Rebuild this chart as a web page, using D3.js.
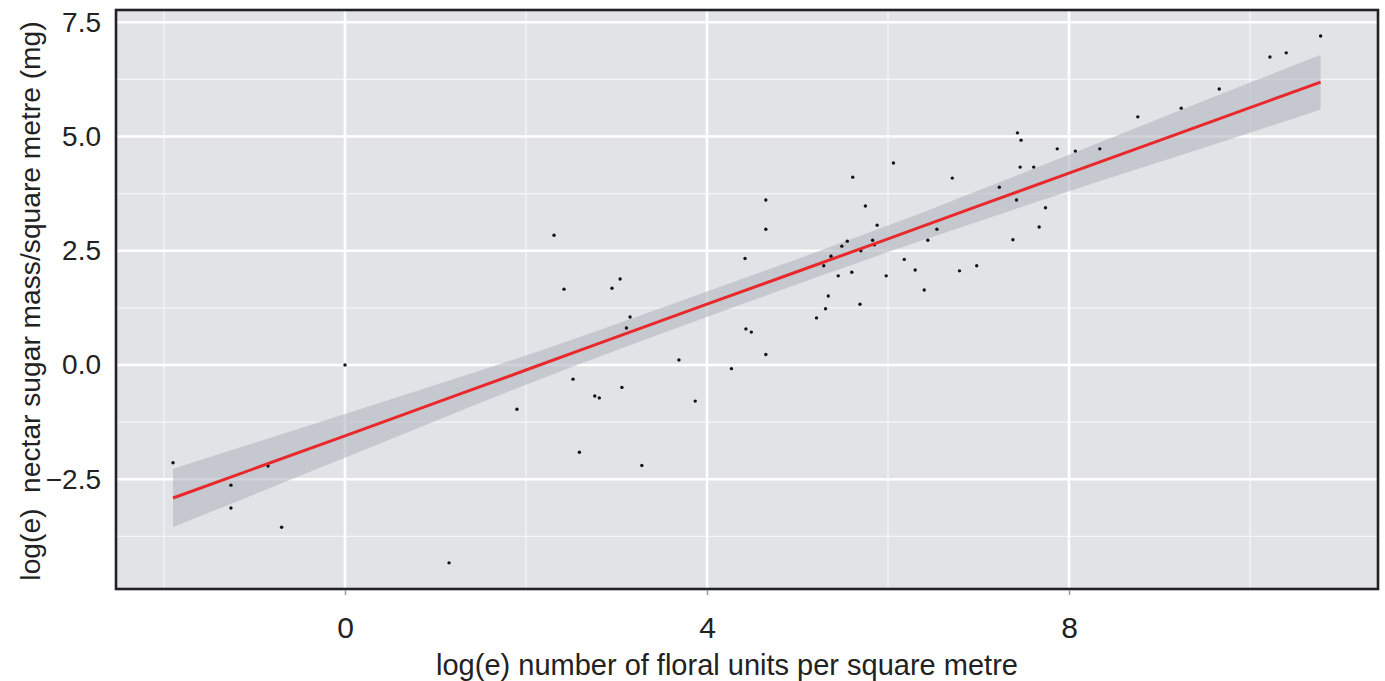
<!DOCTYPE html>
<html>
<head>
<meta charset="utf-8">
<script src="https://cdn.jsdelivr.net/npm/d3@7"></script>
<style>
  html, body { margin: 0; padding: 0; background: #ffffff; }
  svg { display: block; }
  text { font-family: "Liberation Sans", Arial, Helvetica, sans-serif; fill: #222; }
</style>
</head>
<body>
<svg id="chart" width="1385" height="681"></svg>
<script>
// ---- data ----
const floralUnits = [-1.90, -1.26, -1.26, -0.85, -0.70, 0.00, 1.15, 1.90, 2.31, 2.42,
  2.52, 2.59, 2.76, 2.81, 2.95, 3.04, 3.06, 3.11, 3.15, 3.28,
  3.69, 3.87, 4.27, 4.42, 4.43, 4.49, 4.65, 4.65, 4.65, 5.21,
  5.29, 5.31, 5.34, 5.37, 5.45, 5.49, 5.55, 5.60, 5.61, 5.69,
  5.70, 5.75, 5.83, 5.85, 5.88, 5.98, 6.06, 6.18, 6.30, 6.40,
  6.44, 6.54, 6.71, 6.79, 6.98, 7.23, 7.38, 7.42, 7.43, 7.46,
  7.47, 7.61, 7.67, 7.74, 7.87, 8.07, 8.34, 8.76, 9.24, 9.66,
  10.22, 10.40, 10.78];
const nectarSugar = [-2.14, -2.63, -3.13, -2.21, -3.55, 0.00, -4.33, -0.97, 2.84, 1.66,
  -0.31, -1.91, -0.68, -0.72, 1.68, 1.88, -0.49, 0.81, 1.05, -2.20,
  0.11, -0.79, -0.08, 2.33, 0.79, 0.72, 0.23, 2.97, 3.61, 1.03,
  2.17, 1.23, 1.51, 2.38, 1.95, 2.60, 2.71, 2.03, 4.11, 1.33,
  2.50, 3.48, 2.73, 2.63, 3.06, 1.95, 4.42, 2.31, 2.08, 1.64,
  2.73, 2.97, 4.09, 2.06, 2.17, 3.89, 2.74, 3.61, 5.08, 4.33,
  4.92, 4.33, 3.02, 3.44, 4.73, 4.68, 4.73, 5.43, 5.62, 6.04,
  6.74, 6.83, 7.20];

// fitted regression line and its confidence band, read at these x positions
const fitX     = [-1.90, 0.00, 2.00, 4.00, 6.00, 8.00, 10.00, 10.78];
const fitY     = [-2.91, -1.55, -0.11, 1.33, 2.76, 4.20, 5.63, 6.19];
const fitLower = [-3.55, -2.03, -0.43, 1.05, 2.47, 3.80, 5.08, 5.59];
const fitUpper = [-2.27, -1.07, 0.21, 1.61, 3.05, 4.60, 6.18, 6.79];

const xMajorTicks = [0, 4, 8];
const xMinorTicks = [-2, 2, 6, 10];
const yMajorTicks = [-2.5, 0.0, 2.5, 5.0, 7.5];
const yMinorTicks = [-3.75, -1.25, 1.25, 3.75, 6.25];
const xTitle = "log(e) number of floral units per square metre";
const yTitle = "log(e)  nectar sugar mass/square metre (mg)";

// ---- layout ----
const svg = d3.select("#chart");
const panel = { left: 116, right: 1378, top: 10, bottom: 589 };

const x = d3.scaleLinear().domain([-2.530, 11.414]).range([panel.left, panel.right]);
const y = d3.scaleLinear().domain([-4.902, 7.768]).range([panel.bottom, panel.top]);

const g = svg.append("g");

// panel background
g.append("rect")
  .attr("x", panel.left).attr("y", panel.top)
  .attr("width", panel.right - panel.left).attr("height", panel.bottom - panel.top)
  .attr("fill", "#e2e3e7");

// minor grid
g.selectAll(".xminor").data(xMinorTicks).enter().append("line")
  .attr("x1", d => x(d)).attr("x2", d => x(d))
  .attr("y1", panel.top).attr("y2", panel.bottom)
  .attr("stroke", "#f4f5f7").attr("stroke-width", 1.3);
g.selectAll(".yminor").data(yMinorTicks).enter().append("line")
  .attr("y1", d => y(d)).attr("y2", d => y(d))
  .attr("x1", panel.left).attr("x2", panel.right)
  .attr("stroke", "#f4f5f7").attr("stroke-width", 1.3);
// major grid
g.selectAll(".xmajor").data(xMajorTicks).enter().append("line")
  .attr("x1", d => x(d)).attr("x2", d => x(d))
  .attr("y1", panel.top).attr("y2", panel.bottom)
  .attr("stroke", "#ffffff").attr("stroke-width", 2.6);
g.selectAll(".ymajor").data(yMajorTicks).enter().append("line")
  .attr("y1", d => y(d)).attr("y2", d => y(d))
  .attr("x1", panel.left).attr("x2", panel.right)
  .attr("stroke", "#ffffff").attr("stroke-width", 2.6);

// confidence band
const bandData = fitX.map((d, i) => ({ x: d, lo: fitLower[i], hi: fitUpper[i], f: fitY[i] }));
g.append("path")
  .datum(bandData)
  .attr("d", d3.area().x(d => x(d.x)).y0(d => y(d.lo)).y1(d => y(d.hi)).curve(d3.curveMonotoneX))
  .attr("fill", "#b4b8c2").attr("fill-opacity", 0.62);

// points
const pts = floralUnits.map((d, i) => ({ x: d, y: nectarSugar[i] }));
g.selectAll(".pt").data(pts).enter().append("circle")
  .attr("cx", d => x(d.x)).attr("cy", d => y(d.y))
  .attr("r", 1.7).attr("fill", "#111");

// fit line
g.append("path")
  .datum(bandData)
  .attr("d", d3.line().x(d => x(d.x)).y(d => y(d.f)).curve(d3.curveMonotoneX))
  .attr("fill", "none").attr("stroke", "#e8282a").attr("stroke-width", 3);

// frame
g.append("rect")
  .attr("x", panel.left).attr("y", panel.top)
  .attr("width", panel.right - panel.left).attr("height", panel.bottom - panel.top)
  .attr("fill", "none").attr("stroke", "#222").attr("stroke-width", 2.6);

// x axis
const xAxis = d3.axisBottom(x).tickValues(xMajorTicks).tickFormat(d3.format("d")).tickSize(5).tickPadding(22);
const xg = svg.append("g").attr("transform", `translate(0,${panel.bottom + 1})`).call(xAxis);
xg.select(".domain").remove();
xg.selectAll(".tick line").attr("stroke", "#999").attr("stroke-width", 1.5);
xg.selectAll(".tick text").attr("font-size", 30).attr("fill", "#222")
  .style("font-family", "'Liberation Sans', Arial, sans-serif");

// y axis
const yAxis = d3.axisLeft(y).tickValues(yMajorTicks)
  .tickFormat(d => d3.format(".1f")(d).replace("-", "\u2212")).tickSize(0).tickPadding(15);
const yg = svg.append("g").attr("transform", `translate(${panel.left},0)`).call(yAxis);
yg.select(".domain").remove();
yg.selectAll(".tick text").attr("font-size", 28).attr("fill", "#222")
  .style("font-family", "'Liberation Sans', Arial, sans-serif");

// titles
svg.append("text")
  .attr("x", 727).attr("y", 675)
  .attr("text-anchor", "middle").attr("font-size", 29)
  .text(xTitle);
svg.append("text")
  .attr("transform", `translate(40,301) rotate(-90)`)
  .attr("text-anchor", "middle").attr("font-size", 28.2)
  .style("white-space", "pre")
  .text(yTitle);
</script>
</body>
</html>
